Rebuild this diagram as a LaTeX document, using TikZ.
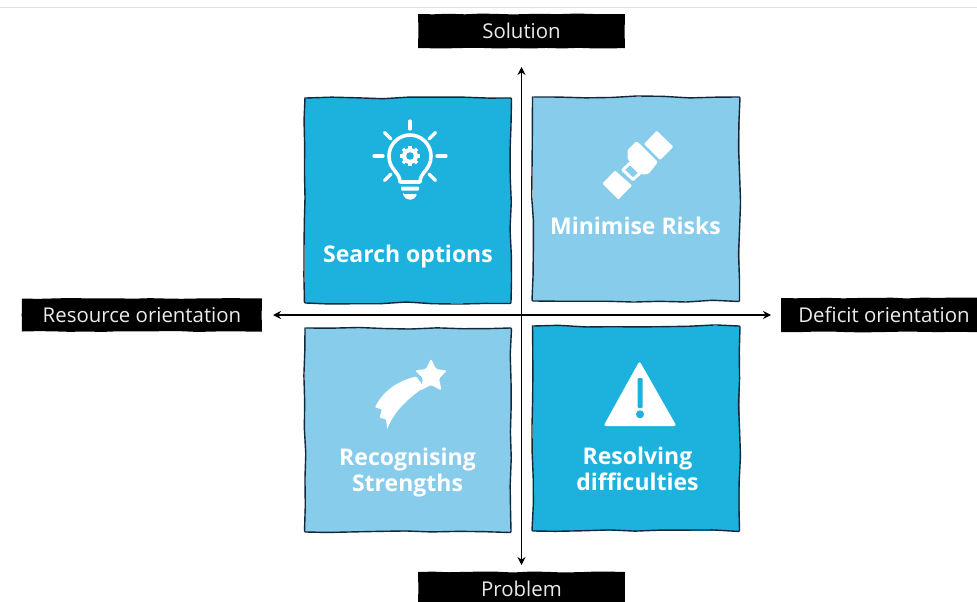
\documentclass[tikz,border=0pt]{standalone}
\usepackage{fontspec}
\setmainfont{Open Sans}
\usetikzlibrary{arrows.meta,decorations.pathmorphing,shapes.geometric}
\definecolor{darkq}{HTML}{1CB2DD}
\definecolor{lightq}{HTML}{87CCEA}
\definecolor{sketchc}{HTML}{12283A}
\tikzset{
  sq/.style={inner sep=0pt,outer sep=0pt},
  sketch/.style={draw=sketchc,line width=1.4pt,rounded corners=1pt,decorate,decoration={random steps,segment length=26pt,amplitude=1.1pt}},
  tag/.style={fill=black,text=white!92!black,inner sep=0pt,outer sep=0pt,font=\fontsize{20.4}{24}\selectfont,decorate,decoration={random steps,segment length=16pt,amplitude=.5pt}},
  title/.style={text=white,font=\fontsize{23}{26}\selectfont\bfseries,align=center,inner sep=0pt},
  axis/.style={black,line width=1.8pt,{Stealth[length=8pt,width=8pt]}-{Stealth[length=8pt,width=8pt]}},
  ic/.style={fill=white,draw=none},
  ray/.style={draw=white,line width=3.2pt,line cap=round},
  bulbl/.style={draw=white,line width=3.6pt,line join=round},
}
\begin{document}
\begin{tikzpicture}[x=1pt,y=-1pt]
\useasboundingbox (0,0) rectangle (977,602);
\clip (0,0) rectangle (977,602);
\fill[white] (0,0) rectangle (977,602);
\draw[black!12,line width=.8pt] (0,7.5) -- (977,7.5);

% quadrants
\node[sq,fill=darkq,minimum width=206pt,minimum height=205pt] (q1) at (408,200.5) {};
\node[sq,fill=lightq,minimum width=207pt,minimum height=204pt] (q2) at (636,199) {};
\node[sq,fill=lightq,minimum width=206pt,minimum height=204pt] (q3) at (408,430) {};
\node[sq,fill=darkq,minimum width=207pt,minimum height=205pt] (q4) at (636,428.5) {};
\foreach \q in {q1,q2,q3,q4}{
  \draw[sketch] (\q.north west) -- (\q.north east) -- (\q.south east) -- (\q.south west) -- cycle;
}

% tags
\node[tag,minimum width=207pt,minimum height=34pt] (solution) at (521.5,31) {Solution};
\node[tag,minimum width=207pt,minimum height=34pt] (problem) at (521.5,589) {Problem};
\node[tag,minimum width=240pt,minimum height=33pt] (resource) at (142,315) {Resource orientation};
\node[tag,minimum width=206pt,minimum height=34pt] (deficit) at (884,315) {Deficit orientation};

% axes
\draw[axis,shorten <=19pt,shorten >=7pt] (solution.south) -- (problem.north);
\draw[axis,shorten <=11pt,shorten >=10pt] (resource.east) -- (deficit.west);

% quadrant titles
\node[title] (t1) at (408,257) {Search options};
\node[title] (t2) at (635.5,226) {Minimise Risks};
\node[title] (t3) at (407.5,473) {Recognising\\Strengths};
\node[title] (t4) at (637.5,469) {Resolving\\difficulties};

% bulb icon
\foreach \a/\b/\c/\d in {410/121/410/129, 374/156/383/156, 446/156/437/156, 384.5/132.5/391/139, 435.5/132.5/429/139, 384.5/180.5/391/174, 435.5/180.5/429/174}{
  \draw[ray] (\a,\b) -- (\c,\d);
}
\draw[bulbl] (400,182) .. controls (400,172) and (389,170) .. (389,156) .. controls (389,144) and (399,135) .. (410,135) .. controls (421,135) and (431,144) .. (431,156) .. controls (431,170) and (420,172) .. (420,182) -- cycle;
\fill[white] (410,156) circle[radius=8pt];
\foreach \t in {0,45,...,315}{
  \draw[white,line width=3.4pt] (410,156) ++(\t:6pt) -- ++(\t:4pt);
}
\fill[darkq] (410,156) circle[radius=3.8pt];
\fill[white,rounded corners=.8pt] (401,186.5) rectangle (419,190.5);
\fill[white,rounded corners=1pt] (403,194) -- (417,194) .. controls (416,198) and (413,199.5) .. (410,199.5) .. controls (407,199.5) and (404,198) .. (403,194) -- cycle;

% seatbelt icon
\fill[ic,rounded corners=.8pt] (656.7,130.7) -- (673.3,146.7) -- (660,160) -- (644,144) -- cycle;
\fill[ic,rounded corners=1.5pt] (636.7,141) -- (658,162) -- (648.5,174) -- (641.7,174.5) -- (627.5,159) -- (627.5,150) -- cycle;
\fill[ic,rounded corners=.8pt] (615,170.5) -- (632,185.5) -- (618.3,199.5) -- (602.5,183.5) -- cycle;
\draw[white,line width=3pt,line join=round] (630,163) -- (640,173) -- (633,179.5) -- (623,170) -- cycle;

% shooting star icon
\fill[ic,rounded corners=1.5pt] (431,358.5)
  -- (436,369) -- (447,370.5) -- (439,378.5) -- (441.5,390.5) -- (431,385)
  -- (420.5,390.5) -- (423,378.5) -- (415,370.5) -- (426,369) -- cycle;
\fill[ic,rounded corners=1pt] (416.5,376.5) .. controls (396,381) and (382,393) .. (375,407.3)
  -- (382,409.5) -- (379.5,417.5) -- (386,419.5) -- (387.3,429.3)
  .. controls (393,413) and (407,399) .. (424,387.5) -- cycle;

% warning icon
\fill[ic,rounded corners=2.5pt] (639.5,361) -- (676.5,426) -- (603.5,426) -- cycle;
\fill[darkq,rounded corners=1pt] (637.5,378) rectangle (642.5,408);
\fill[darkq] (640,414.3) circle[radius=4pt];
\end{tikzpicture}
\end{document}
